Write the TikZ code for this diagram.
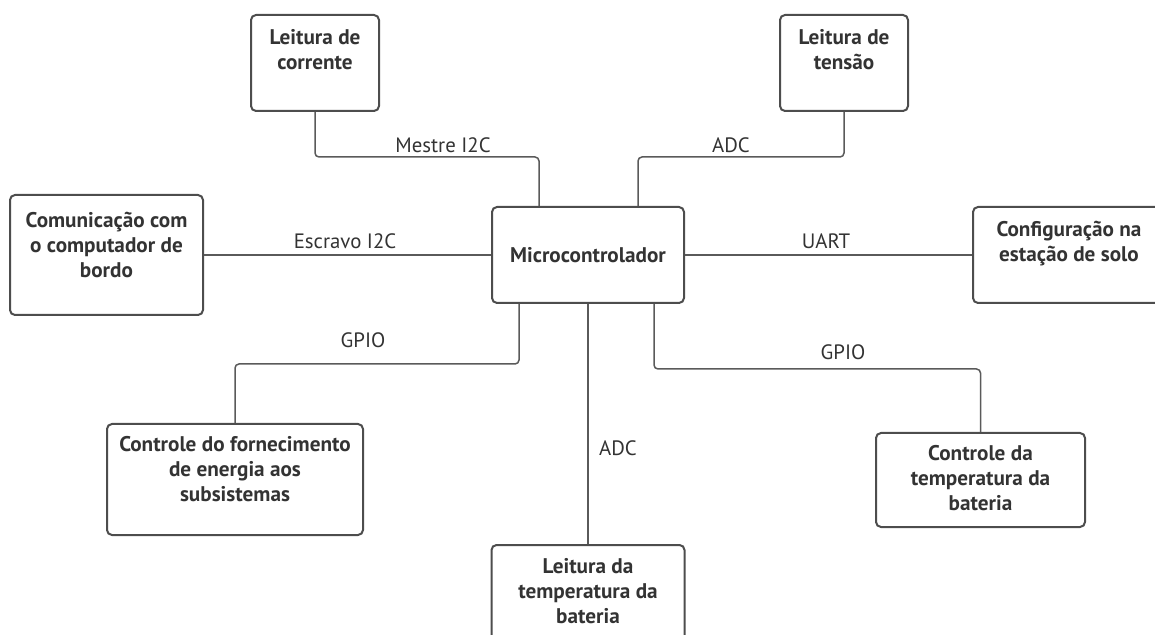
\documentclass[tikz,border=0pt]{standalone}
\usepackage{fontspec}
\setmainfont{PT Sans}
\usetikzlibrary{positioning}
\definecolor{edgegray}{HTML}{4D4D4D}
\definecolor{linegray}{HTML}{5A5A5A}
\definecolor{textgray}{HTML}{333333}
\tikzstyle{rect} = [draw=edgegray, line width=1pt, rectangle, rounded corners=2.5pt, fill=white]
\tikzstyle{boxtext} = [inner sep=0pt, align=center, text=textgray, font=\fontsize{10.6}{12.5}\selectfont\bfseries]
\tikzstyle{lbl} = [inner sep=0pt, text=textgray, font=\fontsize{10.4}{12}\selectfont]
\tikzstyle{line} = [draw=linegray, line width=0.75pt, rounded corners=2pt]

\begin{document}
\begin{tikzpicture}[x=0.5pt, y=-0.5pt]
	\useasboundingbox (0,0) rectangle (1155,635);
	\clip (0,0) rectangle (1155,635);
	% caixas
	\node [rect, minimum width=96pt, minimum height=48pt] (mcu) at (588,255) {};
	\node [boxtext] at (mcu) {Microcontrolador};
	\node [rect, minimum width=64pt, minimum height=48pt] (cur) at (315,63) {};
	\node [boxtext, below=7.5pt of cur.north] (curtext) {Leitura de\\corrente};
	\node [rect, minimum width=64pt, minimum height=48pt] (ten) at (844,63) {};
	\node [boxtext, below=7.5pt of ten.north] (tentext) {Leitura de\\tensão};
	\node [rect, minimum width=96.5pt, minimum height=60pt] (com) at (106.5,255) {};
	\node [boxtext, below=9pt of com.north] (comtext) {Comunicação com\\o computador de\\bordo};
	\node [rect, minimum width=96pt, minimum height=48pt] (cfg) at (1069,255) {};
	\node [boxtext, below=7.5pt of cfg.north] (cfgtext) {Configuração na\\estação de solo};
	\node [rect, minimum width=128pt, minimum height=55.5pt] (pwr) at (235,479.5) {};
	\node [boxtext, below=6.5pt of pwr.north] (pwrtext) {Controle do fornecimento\\de energia aos\\subsistemas};
	\node [rect, minimum width=96.5pt, minimum height=56pt] (bat) at (588,601) {};
	\node [boxtext, below=7pt of bat.north] (battext) {Leitura da\\temperatura da\\bateria};
	\node [rect, minimum width=104.5pt, minimum height=47pt] (ctl) at (980.5,480) {};
	\node [boxtext, below=6.5pt of ctl.north] (ctltext) {Controle da\\temperatura da\\bateria};

	% ligacoes
	\path [line] (cur.south) |- ([xshift=-24.5pt, yshift=24.5pt]mcu.north) -- ([xshift=-24.5pt]mcu.north);
	\path [line] (ten.south) |- ([xshift=25pt, yshift=24.5pt]mcu.north) -- ([xshift=25pt]mcu.north);
	\path [line] (com.east) -- (mcu.west);
	\path [line] (mcu.east) -- (cfg.west);
	\path [line] ([xshift=-34.5pt]mcu.south) -- ([xshift=-34.5pt, yshift=-30pt]mcu.south) -| (pwr.north);
	\path [line] (mcu.south) -- (bat.north);
	\path [line] ([xshift=33pt]mcu.south) -- ([xshift=33pt, yshift=-32.5pt]mcu.south) -| (ctl.north);

	% rotulos
	\node [lbl] (lmestre) at (443,145) {Mestre I2C};
	\node [lbl] (ladctop) at (731,145) {ADC};
	\node [lbl] (lescravo) at (345,241) {Escravo I2C};
	\node [lbl] (luart) at (826,241) {UART};
	\node [lbl] (lgpioleft) at (363,340) {GPIO};
	\node [lbl] (lgpioright) at (843,352) {GPIO};
	\node [lbl] (ladcbot) at (618,448) {ADC};
\end{tikzpicture}
\end{document}
